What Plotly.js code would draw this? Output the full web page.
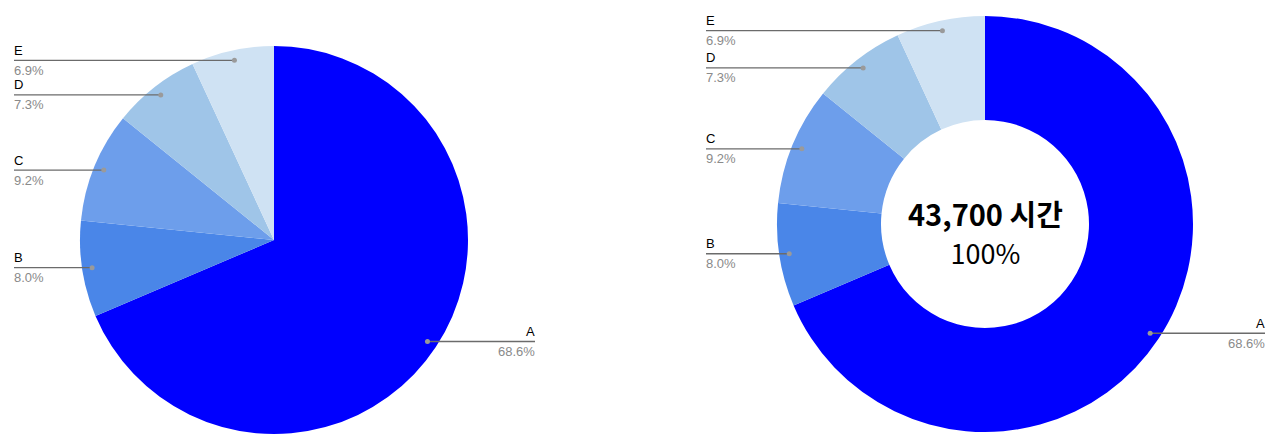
<!DOCTYPE html>
<html><head><meta charset="utf-8">
<script src="https://cdn.plot.ly/plotly-3.0.1.min.js"></script>
<style>html,body{margin:0;padding:0;background:#fff}#chart{width:1280px;height:446px}</style>
</head><body><div id="chart"></div>
<script>
const categories = ['A', 'B', 'C', 'D', 'E'];
const shares = [68.6, 8.0, 9.2, 7.3, 6.9];
const colors = ['#0000ff', '#4a86e8', '#6d9eeb', '#9fc5e8', '#cfe2f3'];
const totalLabel = '43,700 시간';
const totalPct = '100%';

const W = 1280, H = 446;
const pies = [
  {cx: 274, cy: 240, r: 194, hole: 0, leftX: 14, rightX: 535, dot: 184},
  {cx: 985, cy: 224, r: 208, hole: 0.5, leftX: 706, rightX: 1265, dot: 198}
];

const traces = [], shapes = [], annotations = [];
const px = x => x / W, py = y => 1 - y / H;
const total = shares.reduce((a, b) => a + b, 0);

pies.forEach(p => {
  traces.push({
    type: 'pie', labels: categories, values: shares, sort: false,
    direction: 'clockwise', rotation: 0, hole: p.hole,
    marker: {colors: colors, line: {width: 0}},
    textinfo: 'none', hoverinfo: 'none', showlegend: false,
    domain: {x: [px(p.cx - p.r), px(p.cx + p.r)], y: [py(p.cy + p.r), py(p.cy - p.r)]}
  });
  let cum = 0;
  shares.forEach((v, i) => {
    const mid = (cum + v / 2) / total * 2 * Math.PI;
    cum += v;
    const dx = p.cx + p.dot * Math.sin(mid), dy = p.cy - p.dot * Math.cos(mid);
    const left = Math.sin(mid) < 0;
    const ex = left ? p.leftX : p.rightX;
    const tx = left ? ex - 2 : ex + 2;
    shapes.push({type: 'line', xref: 'paper', yref: 'paper', x0: px(dx), y0: py(dy), x1: px(ex), y1: py(dy),
      line: {color: '#6b6b6b', width: 1.3}});
    shapes.push({type: 'circle', xref: 'paper', yref: 'paper', x0: px(dx - 2.5), x1: px(dx + 2.5), y0: py(dy + 2.5), y1: py(dy - 2.5),
      fillcolor: '#9a9a9a', line: {width: 0}});
    annotations.push({xref: 'paper', yref: 'paper', x: px(tx), y: py(dy - 0.5), text: categories[i], showarrow: false,
      xanchor: left ? 'left' : 'right', yanchor: 'bottom', font: {family: 'Liberation Sans, Arial', size: 13, color: '#000'}});
    annotations.push({xref: 'paper', yref: 'paper', x: px(tx), y: py(dy + 0.5), text: v.toFixed(1) + '%', showarrow: false,
      xanchor: left ? 'left' : 'right', yanchor: 'top', font: {family: 'Liberation Sans, Arial', size: 13, color: '#8a8a8a'}});
  });
});

annotations.push({xref: 'paper', yref: 'paper', x: px(985), y: py(231.5),
  text: '<b>' + totalLabel + '</b><br><span style="font-size:27px">' + totalPct + '</span>', showarrow: false,
  xanchor: 'center', yanchor: 'middle', align: 'center', font: {family: 'Noto Sans CJK KR', size: 29, color: '#000'}});

Plotly.newPlot('chart', traces, {
  width: W, height: H, margin: {l: 0, r: 0, t: 0, b: 0},
  paper_bgcolor: '#fff', plot_bgcolor: '#fff',
  shapes: shapes, annotations: annotations
}, {displayModeBar: false, staticPlot: true});
</script></body></html>
